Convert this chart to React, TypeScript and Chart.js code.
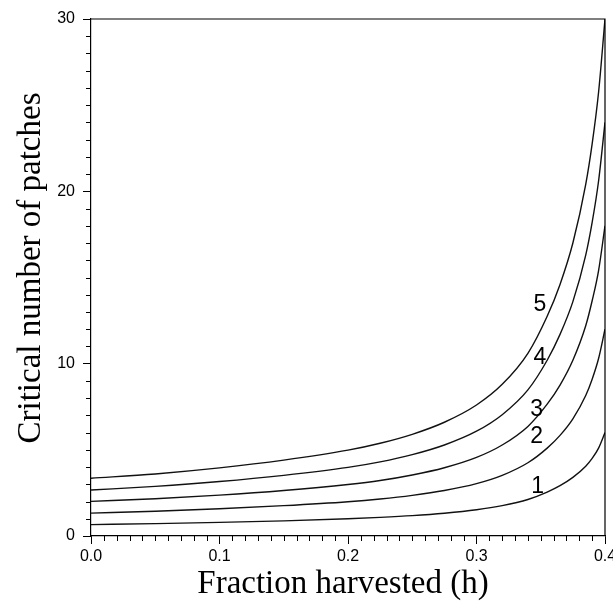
import React, { useEffect, useRef } from "react";
import { Chart, registerables } from "chart.js";

Chart.register(...registerables);

// Fraction harvested (h)
const harvest = [0, 0.05, 0.1, 0.15, 0.2, 0.225, 0.25, 0.275, 0.3, 0.32, 0.34, 0.355, 0.365, 0.375, 0.385, 0.39, 0.395, 0.4];

// Critical number of patches, curves 1..5
const curve1 = [0.66, 0.72, 0.79, 0.88, 1.0, 1.08, 1.18, 1.32, 1.52, 1.76, 2.12, 2.55, 2.92, 3.4, 4.05, 4.5, 5.1, 6.0];
const curve2 = [1.33, 1.44, 1.58, 1.76, 1.99, 2.15, 2.36, 2.64, 3.04, 3.52, 4.25, 5.1, 5.84, 6.8, 8.15, 9.1, 10.3, 12.0];
const curve3 = [2.01, 2.16, 2.37, 2.64, 2.99, 3.22, 3.54, 3.96, 4.56, 5.28, 6.36, 7.65, 8.76, 10.2, 12.2, 13.65, 15.4, 18.0];
const curve4 = [2.67, 2.88, 3.16, 3.52, 3.98, 4.3, 4.72, 5.28, 6.08, 7.04, 8.48, 10.2, 11.7, 13.6, 16.3, 18.2, 20.6, 24.0];
const curve5 = [3.35, 3.6, 3.95, 4.4, 4.98, 5.38, 5.9, 6.6, 7.6, 8.8, 10.6, 12.75, 14.6, 17.0, 20.4, 22.75, 25.75, 30.0];
const curves = [curve1, curve2, curve3, curve4, curve5];

// Curve annotations
const curveLabels = ["1", "2", "3", "4", "5"];
const curveLabelH = [0.3475, 0.3468, 0.3468, 0.3494, 0.3494];
const curveLabelV = [2.86, 5.76, 7.31, 10.37, 13.4];

// Axes
const xTicks = [0, 0.1, 0.2, 0.3, 0.4];
const yTicks = [0, 10, 20, 30];
const xMinorStep = 0.01;
const yMinorStep = 1;
const xTitle = "Fraction harvested (h)";
const yTitle = "Critical number of patches";

const decorPlugin = {
  id: "decor",
  afterDraw(chart: any) {
    const { ctx, chartArea, scales } = chart;
    const x = scales.x;
    const y = scales.y;
    ctx.save();
    ctx.strokeStyle = "#000";
    ctx.lineWidth = 1;
    ctx.beginPath();
    const nx = Math.round((x.max - x.min) / xMinorStep);
    for (let i = 0; i <= nx; i++) {
      if (i % 10 === 0) continue;
      const px = Math.round(x.getPixelForValue(x.min + i * xMinorStep)) + 0.5;
      ctx.moveTo(px, chartArea.bottom);
      ctx.lineTo(px, chartArea.bottom + 5);
    }
    const ny = Math.round((y.max - y.min) / yMinorStep);
    for (let j = 0; j <= ny; j++) {
      if (j % 10 === 0) continue;
      const py = Math.round(y.getPixelForValue(y.min + j * yMinorStep)) + 0.5;
      ctx.moveTo(chartArea.left, py);
      ctx.lineTo(chartArea.left - 5, py);
    }
    ctx.stroke();
    ctx.lineWidth = 1.2;
    ctx.beginPath();
    ctx.moveTo(chartArea.left, chartArea.top);
    ctx.lineTo(chartArea.right, chartArea.top);
    ctx.lineTo(chartArea.right, chartArea.bottom);
    ctx.stroke();

    ctx.fillStyle = "#000";
    ctx.font = "23px 'Liberation Sans', Arial, sans-serif";
    ctx.textAlign = "center";
    ctx.textBaseline = "middle";
    for (let k = 0; k < curveLabels.length; k++) {
      ctx.fillText(curveLabels[k], x.getPixelForValue(curveLabelH[k]), y.getPixelForValue(curveLabelV[k]));
    }

    ctx.font = "33px 'Liberation Serif', 'Times New Roman', serif";
    ctx.textAlign = "center";
    ctx.textBaseline = "middle";
    ctx.fillText(xTitle, 343, 584);
    ctx.translate(31, 268);
    ctx.rotate(-Math.PI / 2);
    ctx.fillText(yTitle, 0, 0);
    ctx.restore();
  },
};

export default function App() {
  const canvasRef = useRef<HTMLCanvasElement | null>(null);

  useEffect(() => {
    document.body.style.margin = "0";
    const canvas = canvasRef.current;
    if (!canvas) return;
    const chart = new Chart(canvas, {
      type: "line",
      data: {
        datasets: curves.map((c, k) => ({
          label: curveLabels[k],
          data: harvest.map((h, i) => ({ x: h, y: c[i] })),
          borderColor: "#111",
          borderWidth: 1.4,
          pointRadius: 0,
          fill: false,
          cubicInterpolationMode: "monotone" as const,
        })),
      },
      options: {
        animation: false,
        responsive: false,
        devicePixelRatio: 1,
        layout: { padding: { top: 19, right: 8, left: 0, bottom: 0 } },
        plugins: { legend: { display: false }, tooltip: { enabled: false } },
        scales: {
          x: {
            type: "linear",
            min: 0,
            max: 0.4,
            afterBuildTicks: (s: any) => {
              s.ticks = xTicks.map((v) => ({ value: v }));
            },
            afterFit: (s: any) => {
              s.height = 71;
              s.paddingLeft = 0;
              s.paddingRight = 0;
            },
            ticks: {
              autoSkip: false,
              maxRotation: 0,
              padding: 3,
              color: "#000",
              font: { family: "'Liberation Sans', Arial, sans-serif", size: 16 },
              callback: (v: any) => Number(v).toFixed(1),
            },
            grid: { drawOnChartArea: false, tickLength: 8, color: "#000", tickColor: "#000" },
            border: { color: "#000", width: 1.2 },
          },
          y: {
            type: "linear",
            min: 0,
            max: 30,
            afterBuildTicks: (s: any) => {
              s.ticks = yTicks.map((v) => ({ value: v }));
            },
            afterFit: (s: any) => {
              s.width = 91;
              s.paddingTop = 0;
              s.paddingBottom = 0;
            },
            ticks: {
              autoSkip: false,
              padding: 8,
              color: "#000",
              font: { family: "'Liberation Sans', Arial, sans-serif", size: 16 },
              callback: (v: any) => String(v),
            },
            grid: { drawOnChartArea: false, tickLength: 8, color: "#000", tickColor: "#000" },
            border: { color: "#000", width: 1.2 },
          },
        },
      },
      plugins: [decorPlugin],
    });
    return () => chart.destroy();
  }, []);

  return (
    <div style={{ width: 613, height: 607, background: "#fff" }}>
      <canvas ref={canvasRef} width={613} height={607} style={{ display: "block" }} />
    </div>
  );
}
